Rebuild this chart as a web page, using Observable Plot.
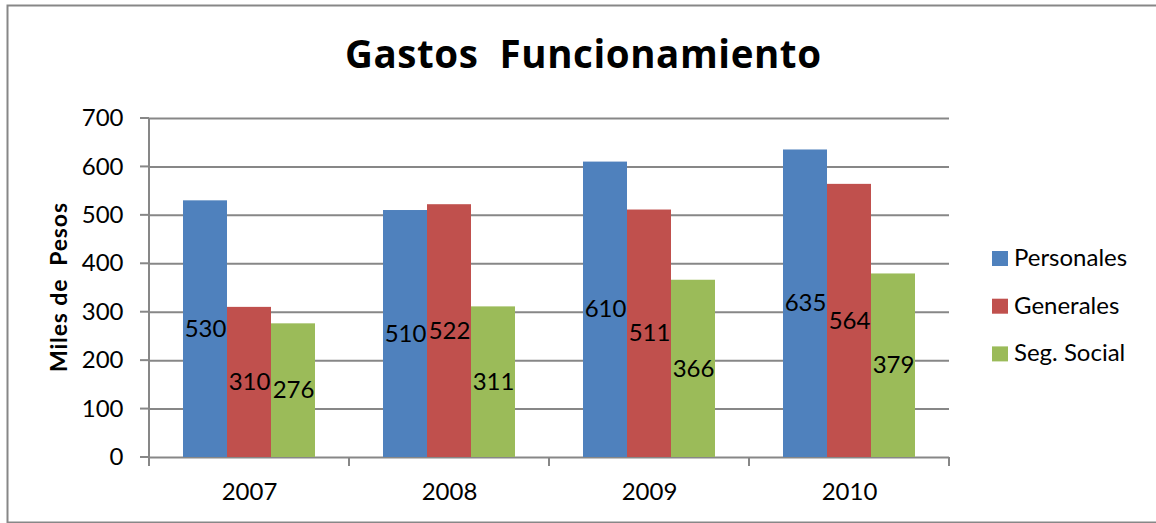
<!DOCTYPE html>
<html><head><meta charset="utf-8">
<script src="https://cdn.jsdelivr.net/npm/d3@7"></script>
<script src="https://cdn.jsdelivr.net/npm/@observablehq/plot@0.6"></script>
<style>body{margin:0;background:#fff}</style>
</head><body><div id="chart"></div>
<script>
const years = ["2007", "2008", "2009", "2010"];
const seriesNames = ["Personales", "Generales", "Seg. Social"];
const personales = [530, 510, 610, 635];
const generales = [310, 522, 511, 564];
const segSocial = [276, 311, 366, 379];
const seriesColors = ["#4F81BD", "#C0504D", "#9BBB59"];
const yTicks = [0, 100, 200, 300, 400, 500, 600, 700];
const titleText = "Gastos  Funcionamiento";
const yLabelText = "Miles de  Pesos";

const valuesBySeries = [personales, generales, segSocial];
const rows = [];
years.forEach((yr, i) => seriesNames.forEach((s, j) => rows.push({year: yr, series: s, value: valuesBySeries[j][i]})));

const W = 1156, H = 523;
const font = "Lato, 'Open Sans', sans-serif";
const titleFont = "'Open Sans', Lato, sans-serif";
const gridColor = "#878787";

const chart = Plot.plot({
  width: W, height: H,
  marginTop: 118, marginBottom: 66, marginLeft: 148, marginRight: 207,
  style: {fontFamily: font, fontSize: "24px", color: "black", background: "white", overflow: "visible"},
  facet: {data: rows, x: "year"},
  fx: {domain: years, padding: 0, axis: "bottom", tickSize: 0, tickPadding: 25, label: null},
  x: {domain: seriesNames, paddingInner: 0, paddingOuter: 0.755, axis: null},
  y: {domain: [0, 700], ticks: yTicks, tickSize: 0, tickPadding: 26, label: null, tickFormat: d => String(d)},
  color: {domain: seriesNames, range: seriesColors},
  marks: [
    Plot.ruleY(yTicks, {stroke: gridColor, strokeWidth: 2}),
    Plot.barY(rows, {x: "series", y: "value", fill: "series"}),
    Plot.text(rows, {x: "series", y: d => d.value / 2, text: d => String(d.value), fill: "black", fontSize: 24, fontFamily: font})
  ]
});
document.getElementById("chart").appendChild(chart);

const svg = d3.select(chart.tagName.toLowerCase() === "svg" ? chart : chart.querySelector("svg"));
const yS = chart.scale("y");
const fxS = chart.scale("fx");
const left = fxS.apply(years[0]);
const right = fxS.apply(years[years.length - 1]) + fxS.bandwidth;
const y0 = yS.apply(0), yTop = yS.apply(yTicks[yTicks.length - 1]);

const ax = svg.append("g").attr("stroke", gridColor).attr("stroke-width", 2);
ax.append("line").attr("x1", left).attr("x2", left).attr("y1", yTop).attr("y2", y0 + 9);
yTicks.forEach(t => ax.append("line").attr("x1", left - 9).attr("x2", left).attr("y1", yS.apply(t)).attr("y2", yS.apply(t)));
years.forEach(yr => { const xx = fxS.apply(yr); ax.append("line").attr("x1", xx).attr("x2", xx).attr("y1", y0).attr("y2", y0 + 9); });
ax.append("line").attr("x1", right).attr("x2", right).attr("y1", y0).attr("y2", y0 + 9);

// title
svg.append("text").attr("x", W / 2 + 5).attr("y", 68).attr("text-anchor", "middle")
  .attr("font-family", titleFont).attr("font-weight", "bold").attr("font-size", 38.5).attr("fill", "black")
  .attr("textLength", 476).attr("lengthAdjust", "spacing")
  .style("white-space", "pre").text(titleText);

// y label
svg.append("text").attr("transform", `translate(67,${(y0 + yTop) / 2}) rotate(-90)`).attr("text-anchor", "middle")
  .attr("font-family", font).attr("font-weight", "bold").attr("font-size", 23).attr("fill", "black")
  .attr("textLength", 169).attr("lengthAdjust", "spacing")
  .style("white-space", "pre").text(yLabelText);

// legend
const colorS = chart.scale("color");
const lg = svg.append("g").attr("text-anchor", "start");
seriesNames.forEach((s, i) => {
  const yy = 266 + i * 47.7;
  lg.append("rect").attr("x", 992).attr("y", yy - 15).attr("width", 16).attr("height", 15).attr("fill", colorS.apply(s));
  lg.append("text").attr("x", 1014).attr("y", yy).attr("text-anchor", "start").attr("font-family", font).attr("font-size", 24).attr("fill", "black").text(s);
});

// outer border
svg.append("rect").attr("x", 7.5).attr("y", 5.5).attr("width", 1160).attr("height", 517).attr("fill", "none").attr("stroke", gridColor).attr("stroke-width", 2);
</script>
</body></html>
